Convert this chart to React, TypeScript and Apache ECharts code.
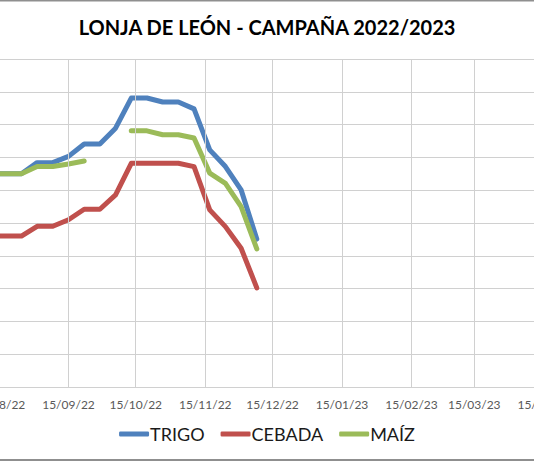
import React, { useEffect, useRef } from "react";
import * as echarts from "echarts";

// Weekly session dates
const dates = [
  "2022-08-11", "2022-08-18", "2022-08-25", "2022-09-01", "2022-09-08", "2022-09-15",
  "2022-09-22", "2022-09-29", "2022-10-06", "2022-10-13", "2022-10-20", "2022-10-27",
  "2022-11-03", "2022-11-10", "2022-11-17", "2022-11-24", "2022-12-01", "2022-12-08",
];

const trigo = [325, 325, 325, 328.4, 328.4, 330.3, 334.1, 334.1, 338.9, 348.1, 348.1, 346.9, 346.9, 344.8, 332.3, 327.2, 320.1, 305.1];
const cebada = [306, 306, 306, 309, 309, 311, 314.2, 314.2, 318.6, 328.2, 328.2, 328.2, 328.2, 327.2, 314, 308.9, 302.3, 290.2];
const maiz: (number | null)[] = [325, 325, 325, 327.2, 327.2, 328, 328.9, null, null, 338.1, 338.1, 336.9, 336.9, 335.9, 325.2, 322.1, 315, 302.1];

const tickDates = [
  "2022-08-15", "2022-09-15", "2022-10-15", "2022-11-15", "2022-12-15",
  "2023-01-15", "2023-02-15", "2023-03-15", "2023-04-15",
];

const axisStart = "2022-08-15";
const axisEnd = "2023-05-15";

const seriesNames = ["TRIGO", "CEBADA", "MAÍZ"];
const seriesColors = ["#4F81BD", "#C0504D", "#9BBB59"];
const titleText = "LONJA DE LEÓN - CAMPAÑA 2022/2023";

const FONT = "Lato, 'Open Sans', sans-serif";
const DAY = 86400000;

function toUTC(s: string): number {
  const [y, m, d] = s.split("-").map(Number);
  return Date.UTC(y, m - 1, d);
}
const base = toUTC(axisStart);
function dayOf(s: string): number {
  return Math.round((toUTC(s) - base) / DAY);
}
function fmtDay(v: number): string {
  const d = new Date(base + Math.round(v) * DAY);
  const p = (n: number) => (n < 10 ? "0" + n : "" + n);
  return p(d.getUTCDate()) + "/" + p(d.getUTCMonth() + 1) + "/" + p(d.getUTCFullYear() % 100);
}

export default function App() {
  const ref = useRef<HTMLDivElement>(null);
  useEffect(() => {
    if (!ref.current) return;
    const chart = echarts.init(ref.current, undefined, { renderer: "svg" });
    const ticks = tickDates.map(dayOf);
    const values = [trigo, cebada, maiz];
    chart.setOption({
      animation: false,
      backgroundColor: "#ffffff",
      title: {
        text: titleText,
        left: "center",
        top: 12,
        textStyle: { fontFamily: FONT, fontSize: 20, fontWeight: "bold", color: "#000000" },
      },
      legend: {
        bottom: 14,
        left: "center",
        icon: "roundRect",
        itemWidth: 30,
        itemHeight: 5,
        itemGap: 16,
        textStyle: { fontFamily: FONT, fontSize: 18, color: "#1a1a1a", padding: [0, 0, 0, -4] },
        data: seriesNames,
      },
      grid: { left: -1, right: -77, top: 59, bottom: 75, outerBoundsMode: "none" },
      xAxis: {
        type: "value",
        min: 0,
        max: dayOf(axisEnd),
        axisLine: { show: true, lineStyle: { color: "#d0d0d0", width: 1 } },
        axisTick: { show: false, customValues: ticks },
        axisLabel: {
          customValues: ticks,
          formatter: (v: number) => fmtDay(v),
          fontFamily: FONT,
          fontSize: 12,
          color: "#595959",
          margin: 11,
          hideOverlap: false,
        },
        splitLine: { show: false },
      },
      yAxis: {
        type: "value",
        min: 260,
        max: 360,
        interval: 10,
        axisLabel: { show: false },
        axisLine: { show: false },
        axisTick: { show: false },
        splitLine: { show: true, lineStyle: { color: "#d0d0d0", width: 1 } },
      },
      series: [
        {
          name: "grid-x",
          type: "line",
          data: [],
          silent: true,
          markLine: {
            silent: true,
            symbol: "none",
            label: { show: false },
            lineStyle: { color: "#d0d0d0", width: 1, type: "solid" },
            data: ticks.map((t) => ({ xAxis: t })),
          },
        },
        ...seriesNames.map((name, i) => ({
          name,
          type: "line",
          showSymbol: false,
          symbol: "none",
          connectNulls: false,
          color: seriesColors[i],
          lineStyle: { width: 5, color: seriesColors[i], cap: "round", join: "round" },
          data: dates.map((d, k) => [dayOf(d), values[i][k]]),
        })),
      ],
      graphic: [
        { type: "line", shape: { x1: 0, y1: 0.75, x2: 534, y2: 0.75 }, style: { stroke: "#8f8f8f", lineWidth: 1.5 } },
        { type: "line", shape: { x1: 0, y1: 460, x2: 534, y2: 460 }, style: { stroke: "#8f8f8f", lineWidth: 2 } },
      ],
    });
    return () => chart.dispose();
  }, []);
  return (
    <div
      ref={ref}
      style={{ position: "absolute", left: 0, top: 0, width: 534, height: 462 }}
    />
  );
}
